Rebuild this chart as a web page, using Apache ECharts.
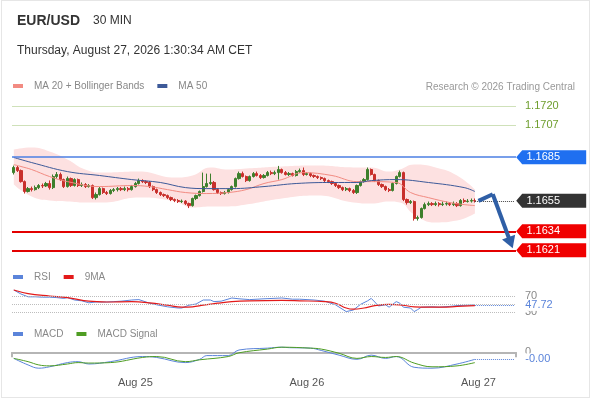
<!DOCTYPE html>
<html>
<head>
<meta charset="utf-8">
<title>EUR/USD 30 MIN</title>
<script src="https://cdn.jsdelivr.net/npm/echarts@6/dist/echarts.min.js"></script>
<style>
  html, body { margin: 0; padding: 0; background: #fff; }
  #frame { position: absolute; left: 1px; top: 0; width: 587px; height: 396px; border: 1px solid #e6e6e6; }
  #chart { position: absolute; left: 0; top: 0; width: 590px; height: 400px; }
</style>
</head>
<body>
<div id="frame"></div>
<div id="chart"></div>
<script>
// x slots (30 min candles) and day labels
const slotCount = 141;
const dayLabels = ['Aug 25', 'Aug 26', 'Aug 27'];
const dayIndex = [34, 82, 130];

// candles: open of each candle is the previous close
const firstOpen = 1.16744;
const closes = [
  1.16779,1.16758,1.16682,1.16614,1.16634,1.16627,1.16641,1.16655,1.16652,1.16669,
  1.16641,1.16717,1.16731,1.16696,1.16648,1.16703,1.16655,1.16696,1.16655,1.16662,
  1.16648,1.16655,1.16572,1.16593,1.16634,1.16607,1.16600,1.16621,1.16627,1.16634,
  1.16627,1.16634,1.16627,1.16648,1.16669,1.16689,1.16682,1.16676,1.16648,1.16627,
  1.16607,1.16593,1.16586,1.16572,1.16559,1.16552,1.16545,1.16548,1.16531,1.16517,
  1.16566,1.16586,1.16614,1.16648,1.16669,1.16676,1.16627,1.16607,1.16600,1.16607,
  1.16627,1.16648,1.16703,1.16737,1.16717,1.16689,1.16717,1.16737,1.16724,1.16710,
  1.16724,1.16744,1.16737,1.16744,1.16765,1.16744,1.16731,1.16737,1.16724,1.16751,
  1.16758,1.16731,1.16737,1.16724,1.16717,1.16710,1.16703,1.16689,1.16682,1.16669,
  1.16655,1.16641,1.16627,1.16634,1.16621,1.16607,1.16655,1.16682,1.16696,1.16765,
  1.16731,1.16689,1.16662,1.16648,1.16627,1.16621,1.16669,1.16717,1.16744,1.16559,
  1.16538,1.16545,1.16428,1.16435,1.16497,1.16524,1.16531,1.16524,1.16531,1.16524,
  1.16528,1.16531,1.16524,1.16531,1.16517,1.16552,1.16545,1.16548,1.16552,1.16550
];
const highs = [
  1.16792,1.16790,1.16765,1.16690,1.16645,1.16648,1.16655,1.16665,1.16669,1.16680,
  1.16690,1.16731,1.16748,1.16744,1.16703,1.16717,1.16710,1.16705,1.16703,1.16676,
  1.16672,1.16665,1.16662,1.16607,1.16645,1.16641,1.16618,1.16631,1.16638,1.16645,
  1.16645,1.16648,1.16645,1.16659,1.16680,1.16703,1.16698,1.16690,1.16686,1.16655,
  1.16634,1.16614,1.16600,1.16593,1.16579,1.16566,1.16562,1.16559,1.16555,1.16538,
  1.16572,1.16593,1.16621,1.16744,1.16737,1.16737,1.16686,1.16634,1.16614,1.16618,
  1.16634,1.16655,1.16710,1.16751,1.16751,1.16724,1.16724,1.16748,1.16751,1.16734,
  1.16734,1.16755,1.16758,1.16758,1.16790,1.16772,1.16755,1.16748,1.16744,1.16762,
  1.16772,1.16779,1.16748,1.16744,1.16731,1.16724,1.16717,1.16710,1.16696,1.16689,
  1.16676,1.16662,1.16648,1.16645,1.16641,1.16631,1.16662,1.16689,1.16706,1.16779,
  1.16772,1.16737,1.16696,1.16669,1.16655,1.16638,1.16676,1.16724,1.16758,1.16751,
  1.16566,1.16555,1.16552,1.16448,1.16504,1.16538,1.16545,1.16541,1.16545,1.16541,
  1.16545,1.16545,1.16541,1.16545,1.16541,1.16562,1.16566,1.16562,1.16566,1.16566
];
const lows = [
  1.16731,1.16748,1.16675,1.16600,1.16607,1.16614,1.16620,1.16631,1.16638,1.16645,
  1.16627,1.16631,1.16703,1.16686,1.16638,1.16641,1.16645,1.16648,1.16645,1.16645,
  1.16638,1.16641,1.16562,1.16559,1.16586,1.16597,1.16590,1.16593,1.16610,1.16614,
  1.16617,1.16617,1.16614,1.16620,1.16641,1.16662,1.16672,1.16665,1.16638,1.16617,
  1.16597,1.16583,1.16576,1.16562,1.16548,1.16541,1.16535,1.16535,1.16521,1.16500,
  1.16510,1.16555,1.16579,1.16607,1.16641,1.16659,1.16620,1.16597,1.16590,1.16593,
  1.16600,1.16620,1.16641,1.16696,1.16710,1.16679,1.16682,1.16710,1.16717,1.16700,
  1.16703,1.16717,1.16727,1.16727,1.16696,1.16737,1.16724,1.16720,1.16717,1.16717,
  1.16741,1.16720,1.16724,1.16713,1.16707,1.16700,1.16693,1.16679,1.16672,1.16659,
  1.16645,1.16631,1.16617,1.16617,1.16610,1.16597,1.16597,1.16648,1.16675,1.16689,
  1.16724,1.16679,1.16652,1.16638,1.16617,1.16610,1.16614,1.16662,1.16710,1.16548,
  1.16524,1.16528,1.16414,1.16414,1.16428,1.16490,1.16514,1.16514,1.16514,1.16511,
  1.16514,1.16517,1.16514,1.16514,1.16507,1.16510,1.16535,1.16538,1.16538,1.16538
];

// moving averages and bands, read at candle indices
const ma20Idx = [0,2,5,10,15,24,33,38,43,48,54,60,65,70,75,81,89,96,100,107,111,116,122,126,129];
const ma20Val = [1.16799,1.16786,1.16765,1.16717,1.16682,1.16648,1.16655,1.16648,1.16627,1.16607,1.16600,1.16607,1.16627,1.16669,1.16696,1.16744,1.16724,1.16682,1.16682,1.16676,1.16607,1.16572,1.16538,1.16524,1.16517];
const ma50Idx = [0,5,15,24,33,41,48,54,61,70,79,89,96,100,107,116,126,129];
const ma50Val = [1.16848,1.16813,1.16751,1.16724,1.16696,1.16676,1.16641,1.16634,1.16634,1.16648,1.16669,1.16676,1.16676,1.16689,1.16696,1.16676,1.16641,1.16614];
const bbIdx = [0,5,10,15,20,25,35,45,50,55,60,65,75,85,95,100,105,108,112,118,124,129];
const bbUpper = [1.16902,1.16916,1.16889,1.16834,1.16765,1.16744,1.16751,1.16710,1.16724,1.16779,1.16765,1.16772,1.16786,1.16792,1.16779,1.16779,1.16751,1.16765,1.16799,1.16779,1.16724,1.16627];
const bbLower = [1.16662,1.16579,1.16552,1.16545,1.16538,1.16538,1.16572,1.16545,1.16504,1.16511,1.16511,1.16524,1.16566,1.16586,1.16538,1.16531,1.16545,1.16538,1.16456,1.16401,1.16414,1.16462];

// levels and forecast arrow
const levelValues = [1.1720, 1.1707, 1.1685, 1.1655, 1.1634, 1.1621];
const forecastIdx = [130, 134, 139];
const forecastVal = [1.16550, 1.16595, 1.16262];

// RSI panel
const rsiIdx = [0,2,4,6,8,10,12,14,15,17,19,21,23,26,28,30,33,35,38,40,43,46,47,49,51,53,55,56,58,61,63,66,70,75,78,80,84,87,90,93,95,97,99,100,101,102,104,105,107,108,109,111,112,113,114,117,119,122,124,127,129];
const rsiVal = [85,75,68,68,67,67,66,64,66,60,58,53,55,55,56,57,60,61,52,48,43,40,40,47,50,60,60,56,57,65,63,61,63,65,62,62,60,57,48,31,35,49,58,64,55,45,48,42,56,52,42,40,31,36,42,43,42,44,46,47,47.72];
const ma9Idx = [0,4,10,15,21,26,33,38,43,47,50,53,57,61,66,75,80,87,90,93,95,98,101,105,108,112,116,120,124,129];
const ma9Val = [85,76,70,66,57,55,56,53,47,42,43,47,52,56,58,59,58,56,52,40,37,40,46,49,48,43,42,42,44,46];

// MACD panel
const macdIdx = [0,4,7,10,15,18,21,27,36,40,48,52,54,60,63,71,75,77,83,86,91,96,100,104,107,112,117,124,129];
const macdVal = [-0.00013,-0.00027,-0.00034,-0.00031,-0.00022,-0.00020,-0.00025,-0.00020,-0.00009,-0.00011,-0.00022,-0.00015,-0.00007,-0.00007,0.00005,0.00009,0.00011,0.00010,0.00009,0.00004,-0.00006,-0.00015,-0.00006,-0.00013,-0.00009,-0.00032,-0.00034,-0.00025,-0.00015];
const sigIdx = [0,4,7,10,15,18,21,27,36,40,48,52,60,63,71,75,83,86,91,96,100,104,107,112,117,124,129];
const sigVal = [-0.00013,-0.00020,-0.00027,-0.00029,-0.00025,-0.00022,-0.00023,-0.00022,-0.00011,-0.00009,-0.00020,-0.00016,-0.00009,-0.00001,0.00007,0.00011,0.00009,0.00007,-0.00002,-0.00013,-0.00009,-0.00011,-0.00009,-0.00023,-0.00031,-0.00029,-0.00022];

const FONT = '"Liberation Sans", Arial, sans-serif';
const BLUE_IND = '#5b84da';
const TAG = 'path://M0,7L6,0L70,0L70,14L6,14Z';

const pairs = (idx, val) => idx.map((x, k) => [x, val[k]]);
const ohlc = closes.map((c, i) => [i === 0 ? firstOpen : closes[i - 1], c, lows[i], highs[i]]);
const cats = Array.from({ length: slotCount }, (_, i) => {
  const k = dayIndex.indexOf(i);
  return k >= 0 ? dayLabels[k] : '';
});
const lastIdx = closes.length - 1;
const endSlot = slotCount - 1;
const lastRsi = rsiVal[rsiVal.length - 1];
const lastMacd = macdVal[macdVal.length - 1];

function tag(value, color) {
  return {
    coord: [endSlot, value],
    symbol: TAG,
    symbolSize: [70, 14],
    symbolOffset: [37, 0],
    itemStyle: { color: color },
    label: { show: true, position: 'inside', offset: [-8, 0], formatter: value.toFixed(4), color: '#fff', fontSize: 11, fontFamily: FONT }
  };
}

const legendBase = {
  left: 13, padding: 0, icon: 'rect', itemWidth: 10, itemHeight: 4, itemGap: 13,
  selectedMode: false,
  textStyle: { color: '#888', fontSize: 10, fontFamily: FONT, padding: [0, 0, 0, 6] }
};

const chart = echarts.init(document.getElementById('chart'));

chart.setOption({
  animation: false,
  textStyle: { fontFamily: FONT },
  title: [
    { text: 'EUR/USD', left: 12, top: 9, textStyle: { fontSize: 14, fontWeight: 'bold', color: '#333', fontFamily: FONT } },
    { text: '30 MIN', left: 88, top: 10, textStyle: { fontSize: 12, fontWeight: 'normal', color: '#333', fontFamily: FONT } },
    { text: 'Thursday, August 27, 2026 1:30:34 AM CET', left: 12, top: 40, textStyle: { fontSize: 12, fontWeight: 'normal', color: '#333', fontFamily: FONT } },
    { text: 'Research \u00a9 2026 Trading Central', right: 10, top: 77, textStyle: { fontSize: 10, fontWeight: 'normal', color: '#999', fontFamily: FONT } }
  ],
  legend: [
    Object.assign({}, legendBase, { top: 81, data: ['MA 20 + Bollinger Bands', 'MA 50'] }),
    Object.assign({}, legendBase, { top: 272, data: ['RSI', '9MA'] }),
    Object.assign({}, legendBase, { top: 329, data: ['MACD', 'MACD Signal'] })
  ],
  grid: [
    { left: 12, right: 74, top: 99, height: 160 },
    { left: 12, right: 74, top: 288, height: 32 },
    { left: 12, right: 74, top: 343, height: 28 }
  ],
  xAxis: [0, 1, 2].map(g => ({
    type: 'category',
    gridIndex: g,
    data: cats,
    boundaryGap: true,
    show: g === 2,
    axisLine: { lineStyle: { color: '#b5b5b5', width: 2 } },
    axisTick: { show: true, interval: (i) => i === 0, length: 5, lineStyle: { color: '#b5b5b5', width: 2 } },
    axisLabel: { interval: (i) => dayIndex.indexOf(i) >= 0, color: '#555', fontSize: 11, margin: 6, fontFamily: FONT },
    splitLine: { show: false }
  })),
  yAxis: [
    { gridIndex: 0, min: 1.1615, max: 1.1725, show: false },
    { gridIndex: 1, min: 10, max: 90, show: false },
    { gridIndex: 2, min: -0.0004, max: 0.0002, show: false }
  ],
  series: [
    {
      name: 'bbLow', type: 'line', xAxisIndex: 0, yAxisIndex: 0, stack: 'bb', smooth: 0.5, z: 1,
      symbol: 'none', silent: true, lineStyle: { opacity: 0 },
      data: pairs(bbIdx, bbLower)
    },
    {
      name: 'bbBand', type: 'line', xAxisIndex: 0, yAxisIndex: 0, stack: 'bb', smooth: 0.5, z: 1,
      symbol: 'none', silent: true, lineStyle: { opacity: 0 },
      areaStyle: { color: '#fde1e1', opacity: 1 },
      data: bbIdx.map((x, k) => [x, bbUpper[k] - bbLower[k]])
    },
    {
      name: 'EUR/USD', type: 'candlestick', xAxisIndex: 0, yAxisIndex: 0, z: 3,
      barWidth: '75%', clip: false,
      itemStyle: { color: '#3d7f2c', color0: '#c8302c', borderColor: '#3d7f2c', borderColor0: '#c8302c', borderWidth: 1 },
      data: ohlc,
      markLine: {
        silent: true, symbol: ['none', 'none'], animation: false, precision: 5,
        label: { show: true, position: 'end', distance: 9, fontSize: 11, fontFamily: FONT },
        emphasis: { disabled: true },
        data: [
          { yAxis: levelValues[0], lineStyle: { color: '#cfe1b9', width: 1, type: 'solid' }, label: { formatter: levelValues[0].toFixed(4), color: '#6e9e2e' } },
          { yAxis: levelValues[1], lineStyle: { color: '#cfe1b9', width: 1, type: 'solid' }, label: { formatter: levelValues[1].toFixed(4), color: '#6e9e2e' } },
          { yAxis: levelValues[2], lineStyle: { color: '#4b7fe3', width: 1.5, type: 'solid' }, label: { show: false } },
          [
            { coord: [lastIdx, levelValues[3]], lineStyle: { color: '#444', width: 1, type: 'dotted' }, label: { show: false } },
            { coord: [endSlot, levelValues[3]] }
          ],
          { yAxis: levelValues[4], lineStyle: { color: '#e30000', width: 2, type: 'solid' }, label: { show: false } },
          { yAxis: levelValues[5], lineStyle: { color: '#e30000', width: 2, type: 'solid' }, label: { show: false } },
          [
            { coord: [forecastIdx[0], forecastVal[0]], symbol: 'none', lineStyle: { color: '#2f5fa6', width: 4, type: 'solid' }, label: { show: false } },
            { coord: [forecastIdx[1], forecastVal[1]], symbol: 'none' }
          ],
          [
            { coord: [forecastIdx[1], forecastVal[1]], symbol: 'none', lineStyle: { color: '#2f5fa6', width: 4, type: 'solid' }, label: { show: false } },
            { coord: [forecastIdx[2], forecastVal[2]], symbol: 'triangle', symbolSize: [14, 12] }
          ]
        ]
      },
      markPoint: {
        silent: true, animation: false,
        data: [
          tag(levelValues[2], '#1f6ff0'),
          tag(levelValues[3], '#333333'),
          tag(levelValues[4], '#f00000'),
          tag(levelValues[5], '#f00000')
        ]
      }
    },
    {
      name: 'MA 20 + Bollinger Bands', type: 'line', xAxisIndex: 0, yAxisIndex: 0, smooth: 0.4, z: 4,
      symbol: 'none', color: '#f28b82', lineStyle: { width: 1 },
      data: pairs(ma20Idx, ma20Val)
    },
    {
      name: 'MA 50', type: 'line', xAxisIndex: 0, yAxisIndex: 0, smooth: 0.4, z: 4,
      symbol: 'none', color: '#3d5a99', lineStyle: { width: 1 },
      data: pairs(ma50Idx, ma50Val)
    },
    {
      name: 'RSI', type: 'line', xAxisIndex: 1, yAxisIndex: 1,
      symbol: 'none', color: BLUE_IND, lineStyle: { width: 1 },
      data: pairs(rsiIdx, rsiVal),
      markLine: {
        silent: true, symbol: ['none', 'none'], animation: false, precision: 5,
        lineStyle: { type: 'dotted', color: '#bdbdbd', width: 1 },
        label: { show: true, position: 'end', distance: 9, color: '#888', fontSize: 11, fontFamily: FONT },
        emphasis: { disabled: true },
        data: [
          { yAxis: 70, label: { formatter: '70' } },
          { yAxis: 50, label: { show: false } },
          { yAxis: 30, label: { formatter: '30' } },
          [
            { coord: [lastIdx, lastRsi], lineStyle: { type: 'dotted', color: BLUE_IND, width: 1 },
              label: { formatter: lastRsi.toFixed(2), color: BLUE_IND, backgroundColor: '#fff', padding: [1, 2, 0, 2] } },
            { coord: [endSlot, lastRsi] }
          ]
        ]
      }
    },
    {
      name: '9MA', type: 'line', xAxisIndex: 1, yAxisIndex: 1, smooth: 0.4,
      symbol: 'none', color: '#e31a1a', lineStyle: { width: 1.2 },
      data: pairs(ma9Idx, ma9Val)
    },
    {
      name: 'MACD', type: 'line', xAxisIndex: 2, yAxisIndex: 2, smooth: 0.4,
      symbol: 'none', color: BLUE_IND, lineStyle: { width: 1 },
      data: pairs(macdIdx, macdVal),
      markLine: {
        silent: true, symbol: ['none', 'none'], animation: false, precision: 6,
        label: { show: true, position: 'end', distance: 9, color: '#888', fontSize: 11, fontFamily: FONT },
        emphasis: { disabled: true },
        data: [
          { yAxis: 0, lineStyle: { color: 'rgba(0,0,0,0)', width: 1 }, label: { formatter: '0', color: '#888' } },
          [
            { coord: [lastIdx, lastMacd], lineStyle: { type: 'dotted', color: BLUE_IND, width: 1 },
              label: { formatter: lastMacd.toFixed(2), color: BLUE_IND, backgroundColor: '#fff', padding: [1, 2, 0, 2] } },
            { coord: [endSlot, lastMacd] }
          ]
        ]
      }
    },
    {
      name: 'MACD Signal', type: 'line', xAxisIndex: 2, yAxisIndex: 2, smooth: 0.4,
      symbol: 'none', color: '#4f9d23', lineStyle: { width: 1 },
      data: pairs(sigIdx, sigVal)
    }
  ]
});

window.addEventListener('resize', () => chart.resize());
</script>
</body>
</html>
